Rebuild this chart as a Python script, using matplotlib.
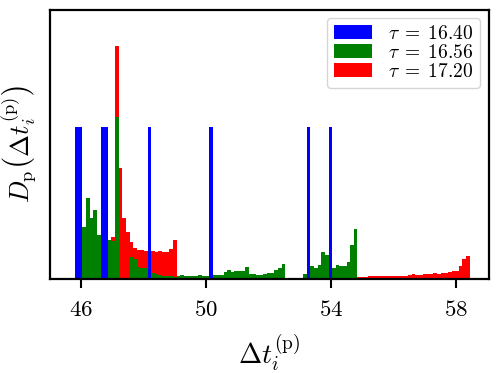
import numpy as np
import matplotlib
matplotlib.use("Agg")
import matplotlib.pyplot as plt

plt.rcParams['mathtext.fontset'] = 'cm'
plt.rcParams['font.family'] = ['DejaVu Serif']

# common histogram bin grid
bin_start = 45.808
bin_width = 0.1158
n_bins = 109

labels = [r'$\tau\;=\;16.40$', r'$\tau\;=\;16.56$', r'$\tau\;=\;17.20$']
colors = ['blue', 'green', 'red']

# tau = 16.40 : discrete sample values (periodic orbit)
blue_values = [45.866, 45.982, 46.677, 46.793, 48.183, 50.151, 53.278, 53.973]

# tau = 16.56 : density per bin, starting at bin index 2
green_first_bin = 2
green_density = [0.368, 0.576, 0.432, 0.493, 0.315, 0.320, 0.299, 0.277, 0.272, 1.154,
                 0.0, 0.0, 0.0,
                 0.160, 0.139, 0.082, 0.080, 0.076, 0.057, 0.045, 0.036, 0.028, 0.023,
                 0.023, 0.019, 0.016, 0.021, 0.026, 0.021, 0.021, 0.023, 0.023, 0.025,
                 0.023, 0.023, 0.025, 0.028, 0.028, 0.032, 0.048, 0.064, 0.052, 0.055,
                 0.057, 0.059, 0.085, 0.036, 0.033, 0.026, 0.026, 0.036, 0.043, 0.043,
                 0.064, 0.080, 0.107,
                 0.0, 0.0, 0.0, 0.0, 0.0,
                 0.036, 0.064, 0.095, 0.076, 0.100, 0.190, 0.171, 0.085, 0.080, 0.097,
                 0.092, 0.089, 0.119, 0.242, 0.356]

# tau = 17.20 : density per bin, starting at bin index 10
red_first_bin = 10
red_density = ([0.301, 1.657, 0.789, 0.434, 0.332, 0.260, 0.224, 0.206, 0.206, 0.199,
                0.199, 0.199, 0.194, 0.201, 0.190, 0.190, 0.216, 0.275]
               + [0.0] * 30
               + [0.009, 0.009, 0.009, 0.009, 0.009]
               + [0.0] * 15
               + [0.014, 0.014, 0.016, 0.018, 0.021, 0.021, 0.020, 0.019, 0.019, 0.019,
                  0.021, 0.023, 0.023, 0.023, 0.031, 0.033, 0.028, 0.031, 0.033, 0.036,
                  0.038, 0.043, 0.036, 0.043, 0.045, 0.053, 0.059, 0.059, 0.092, 0.142,
                  0.164])

xticks = [46, 50, 54, 58]
xtick_labels = [r'$46$', r'$50$', r'$54$', r'$58$']

edges = bin_start + bin_width * np.arange(n_bins + 1)
centers = 0.5 * (edges[:-1] + edges[1:])


def full(first, vals):
    arr = np.zeros(n_bins)
    arr[first:first + len(vals)] = vals
    return arr


fig = plt.figure(figsize=(4.98, 3.73), dpi=100)
ax = fig.add_axes([0.1004, 0.252, 0.8816, 0.7225])

_, _, p_red = ax.hist(centers, bins=edges, weights=full(red_first_bin, red_density),
                      histtype='bar', color=colors[2], label=labels[2])
_, _, p_green = ax.hist(centers, bins=edges, weights=full(green_first_bin, green_density),
                        histtype='bar', color=colors[1], label=labels[1])
_, _, p_blue = ax.hist(blue_values, bins=edges, density=True,
                       histtype='bar', color=colors[0], label=labels[0])

ax.set_xlim(45.0, 59.05)
ax.set_ylim(0, 1.917)
ax.set_xticks(xticks)
ax.set_xticklabels(xtick_labels, fontsize=16.5)
ax.set_yticks([])
ax.tick_params(axis='x', direction='out', length=6.5, width=1.5, pad=8)
for s in ax.spines.values():
    s.set_linewidth(1.6)

ax.set_xlabel(r'$\Delta t_i^{(\mathrm{p})}$', fontsize=20, labelpad=8)
ax.set_ylabel(r'$D_{\mathrm{p}}\left(\Delta t_i^{(\mathrm{p})}\right)$', fontsize=19, labelpad=8)

ax.legend([p_blue[0], p_green[0], p_red[0]], labels, loc='upper right',
          fontsize=14, handlelength=2.0, handleheight=0.7, labelspacing=0.05,
          borderaxespad=0.45, borderpad=0.35)

fig.savefig('out.png', dpi=100)
